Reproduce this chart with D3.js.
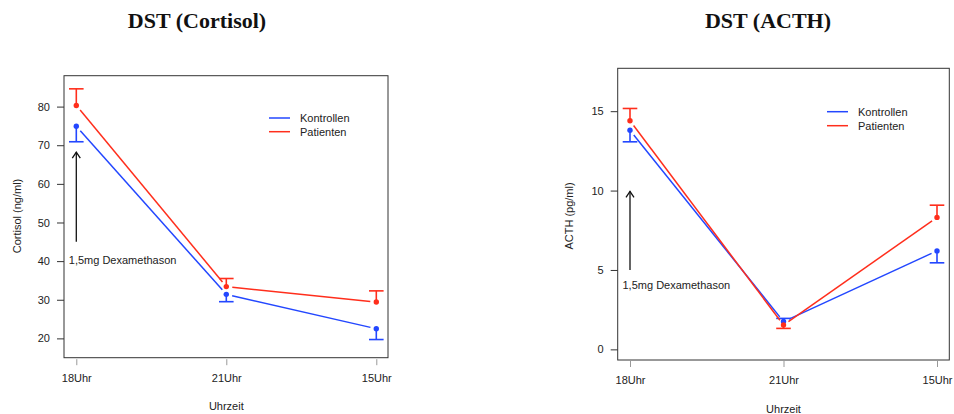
<!DOCTYPE html>
<html><head><meta charset="utf-8">
<script src="https://cdn.jsdelivr.net/npm/d3@7"></script>
<style>body{margin:0;background:#fff}svg{display:block}</style>
</head><body><svg id="c" width="954" height="414"></svg>
<script>
// ---- data ----
const categories = ["18Uhr", "21Uhr", "15Uhr"];
const seriesNames = ["Kontrollen", "Patienten"];
// Cortisol (ng/ml)
const cortisolKontrollen = [74.9, 31.4, 22.5];
const cortisolKontrollenErrEnd = [70.9, 29.5, 19.7];
const cortisolPatienten = [80.3, 33.4, 29.4];
const cortisolPatientenErrEnd = [84.6, 35.5, 32.3];
const cortisolTicks = [20, 30, 40, 50, 60, 70, 80];
const cortisolArrow = [45, 68.2];
// ACTH (pg/ml)
const acthKontrollen = [13.8, 1.75, 6.2];
const acthKontrollenErrEnd = [13.07, 1.95, 5.45];
const acthPatienten = [14.4, 1.53, 8.31];
const acthPatientenErrEnd = [15.17, 1.32, 9.08];
const acthTicks = [0, 5, 10, 15];
const acthArrow = [5, 9.95];
const annotation = "1,5mg Dexamethason";

const colors = {Kontrollen: "#2347ff", Patienten: "#ff2e1c"};
const svg = d3.select("#c");
const FONT = "'Liberation Sans', Arial, sans-serif";

function panel(cfg) {
  const x = d3.scalePoint().domain(categories).range(cfg.xr);
  // extend: plot box wider than outer points
  const y = d3.scaleLinear().domain(cfg.yd).range([cfg.box.b, cfg.box.t]);
  const g = svg.append("g");
  // title
  g.append("text").attr("x", cfg.titleX).attr("y", 28).attr("text-anchor", "middle")
    .attr("font-family", "'Liberation Serif', 'DejaVu Serif', serif").attr("font-weight", "bold")
    .attr("font-size", 22).attr("fill", "#111").text(cfg.title);
  // box
  g.append("rect").attr("x", cfg.box.l).attr("y", cfg.box.t)
    .attr("width", cfg.box.r - cfg.box.l).attr("height", cfg.box.b - cfg.box.t)
    .attr("fill", "none").attr("stroke", "#333").attr("stroke-width", 1);
  // y axis
  const ya = d3.axisLeft(y).tickValues(cfg.ticks).tickSize(7).tickPadding(7).tickFormat(d3.format("d"));
  const yg = g.append("g").attr("transform", `translate(${cfg.box.l},0)`).call(ya);
  yg.select(".domain").remove();
  yg.selectAll("line").attr("stroke", "#333");
  yg.selectAll("text").attr("font-family", FONT).attr("font-size", 11).attr("fill", "#222");
  // x axis
  const xa = d3.axisBottom(x).tickSize(6).tickPadding(9);
  const xg = g.append("g").attr("transform", `translate(0,${cfg.box.b + cfg.xoff})`).call(xa);
  xg.select(".domain").remove();
  xg.selectAll("line").attr("stroke", "#999");
  xg.selectAll("text").attr("font-family", FONT).attr("font-size", 11).attr("fill", "#222");
  // axis titles
  g.append("text").attr("x", x("21Uhr")).attr("y", cfg.xtitleY).attr("text-anchor", "middle")
    .attr("font-family", FONT).attr("font-size", 11).attr("fill", "#222").text("Uhrzeit");
  g.append("text").attr("transform", `translate(${cfg.ytitleX},216) rotate(-90)`).attr("text-anchor", "middle")
    .attr("font-family", FONT).attr("font-size", 11).attr("fill", "#222").text(cfg.ytitle);

  const series = [
    {name: "Kontrollen", v: cfg.k, e: cfg.ke},
    {name: "Patienten", v: cfg.p, e: cfg.pe}
  ];
  const gap = 6;
  series.forEach(s => {
    const col = colors[s.name];
    const pts = s.v.map((v, i) => [x(categories[i]), y(v)]);
    // lines with gaps (type "b")
    for (let i = 0; i < pts.length - 1; i++) {
      const [x0, y0] = pts[i], [x1, y1] = pts[i + 1];
      const len = Math.hypot(x1 - x0, y1 - y0);
      const ux = (x1 - x0) / len, uy = (y1 - y0) / len;
      g.append("line").attr("x1", x0 + ux * gap).attr("y1", y0 + uy * gap)
        .attr("x2", x1 - ux * gap).attr("y2", y1 - uy * gap)
        .attr("stroke", col).attr("stroke-width", 1.5);
    }
    // error bars
    s.e.forEach((ev, i) => {
      const cx = x(categories[i]);
      g.append("line").attr("x1", cx).attr("x2", cx).attr("y1", y(s.v[i])).attr("y2", y(ev))
        .attr("stroke", col).attr("stroke-width", 1.6);
      g.append("line").attr("x1", cx - 7.3).attr("x2", cx + 7.3).attr("y1", y(ev)).attr("y2", y(ev))
        .attr("stroke", col).attr("stroke-width", 1.6);
    });
    // points
    pts.forEach(p => g.append("circle").attr("cx", p[0]).attr("cy", p[1]).attr("r", 2.7).attr("fill", col));
  });
  // legend
  seriesNames.forEach((n, i) => {
    const ly = cfg.leg.y + i * cfg.leg.dy;
    g.append("line").attr("x1", cfg.leg.x).attr("x2", cfg.leg.x + 21).attr("y1", ly).attr("y2", ly)
      .attr("stroke", colors[n]).attr("stroke-width", 1.5);
    g.append("text").attr("x", cfg.leg.x + 31).attr("y", ly + 4).attr("font-family", FONT)
      .attr("font-size", 11).attr("fill", "#222").text(n);
  });
  // arrow
  const ax = x(categories[0]);
  const yb = y(cfg.arrow[0]), yt = y(cfg.arrow[1]);
  g.append("line").attr("x1", ax).attr("x2", ax).attr("y1", yb).attr("y2", yt).attr("stroke", "#111").attr("stroke-width", 1.3);
  g.append("path").attr("d", `M${ax - 4},${yt + 6}L${ax},${yt}L${ax + 4},${yt + 6}`)
    .attr("fill", "none").attr("stroke", "#111").attr("stroke-width", 1.3);
  g.append("text").attr("x", ax - 7.5).attr("y", yb + cfg.annDy).attr("font-family", FONT)
    .attr("font-size", 11).attr("fill", "#222").text(annotation);
}

panel({
  title: "DST (Cortisol)", titleX: 197,
  xr: [76.3, 376.3], yd: [15, 88], box: {l: 64, r: 388, t: 75.7, b: 357.7}, xoff: 1.5,
  ticks: cortisolTicks, ytitle: "Cortisol (ng/ml)", ytitleX: 21, xtitleY: 410,
  k: cortisolKontrollen, ke: cortisolKontrollenErrEnd, p: cortisolPatienten, pe: cortisolPatientenErrEnd,
  leg: {x: 269, y: 118, dy: 13.7}, arrow: cortisolArrow, annDy: 22.5
});
panel({
  title: "DST (ACTH)", titleX: 768,
  xr: [630, 937], yd: [-0.67, 17.7], box: {l: 617.7, r: 949.3, t: 68.3, b: 360}, xoff: 1,
  ticks: acthTicks, ytitle: "ACTH (pg/ml)", ytitleX: 573, xtitleY: 413,
  k: acthKontrollen, ke: acthKontrollenErrEnd, p: acthPatienten, pe: acthPatientenErrEnd,
  leg: {x: 827, y: 111.7, dy: 14}, arrow: acthArrow, annDy: 19
});
</script></body></html>
